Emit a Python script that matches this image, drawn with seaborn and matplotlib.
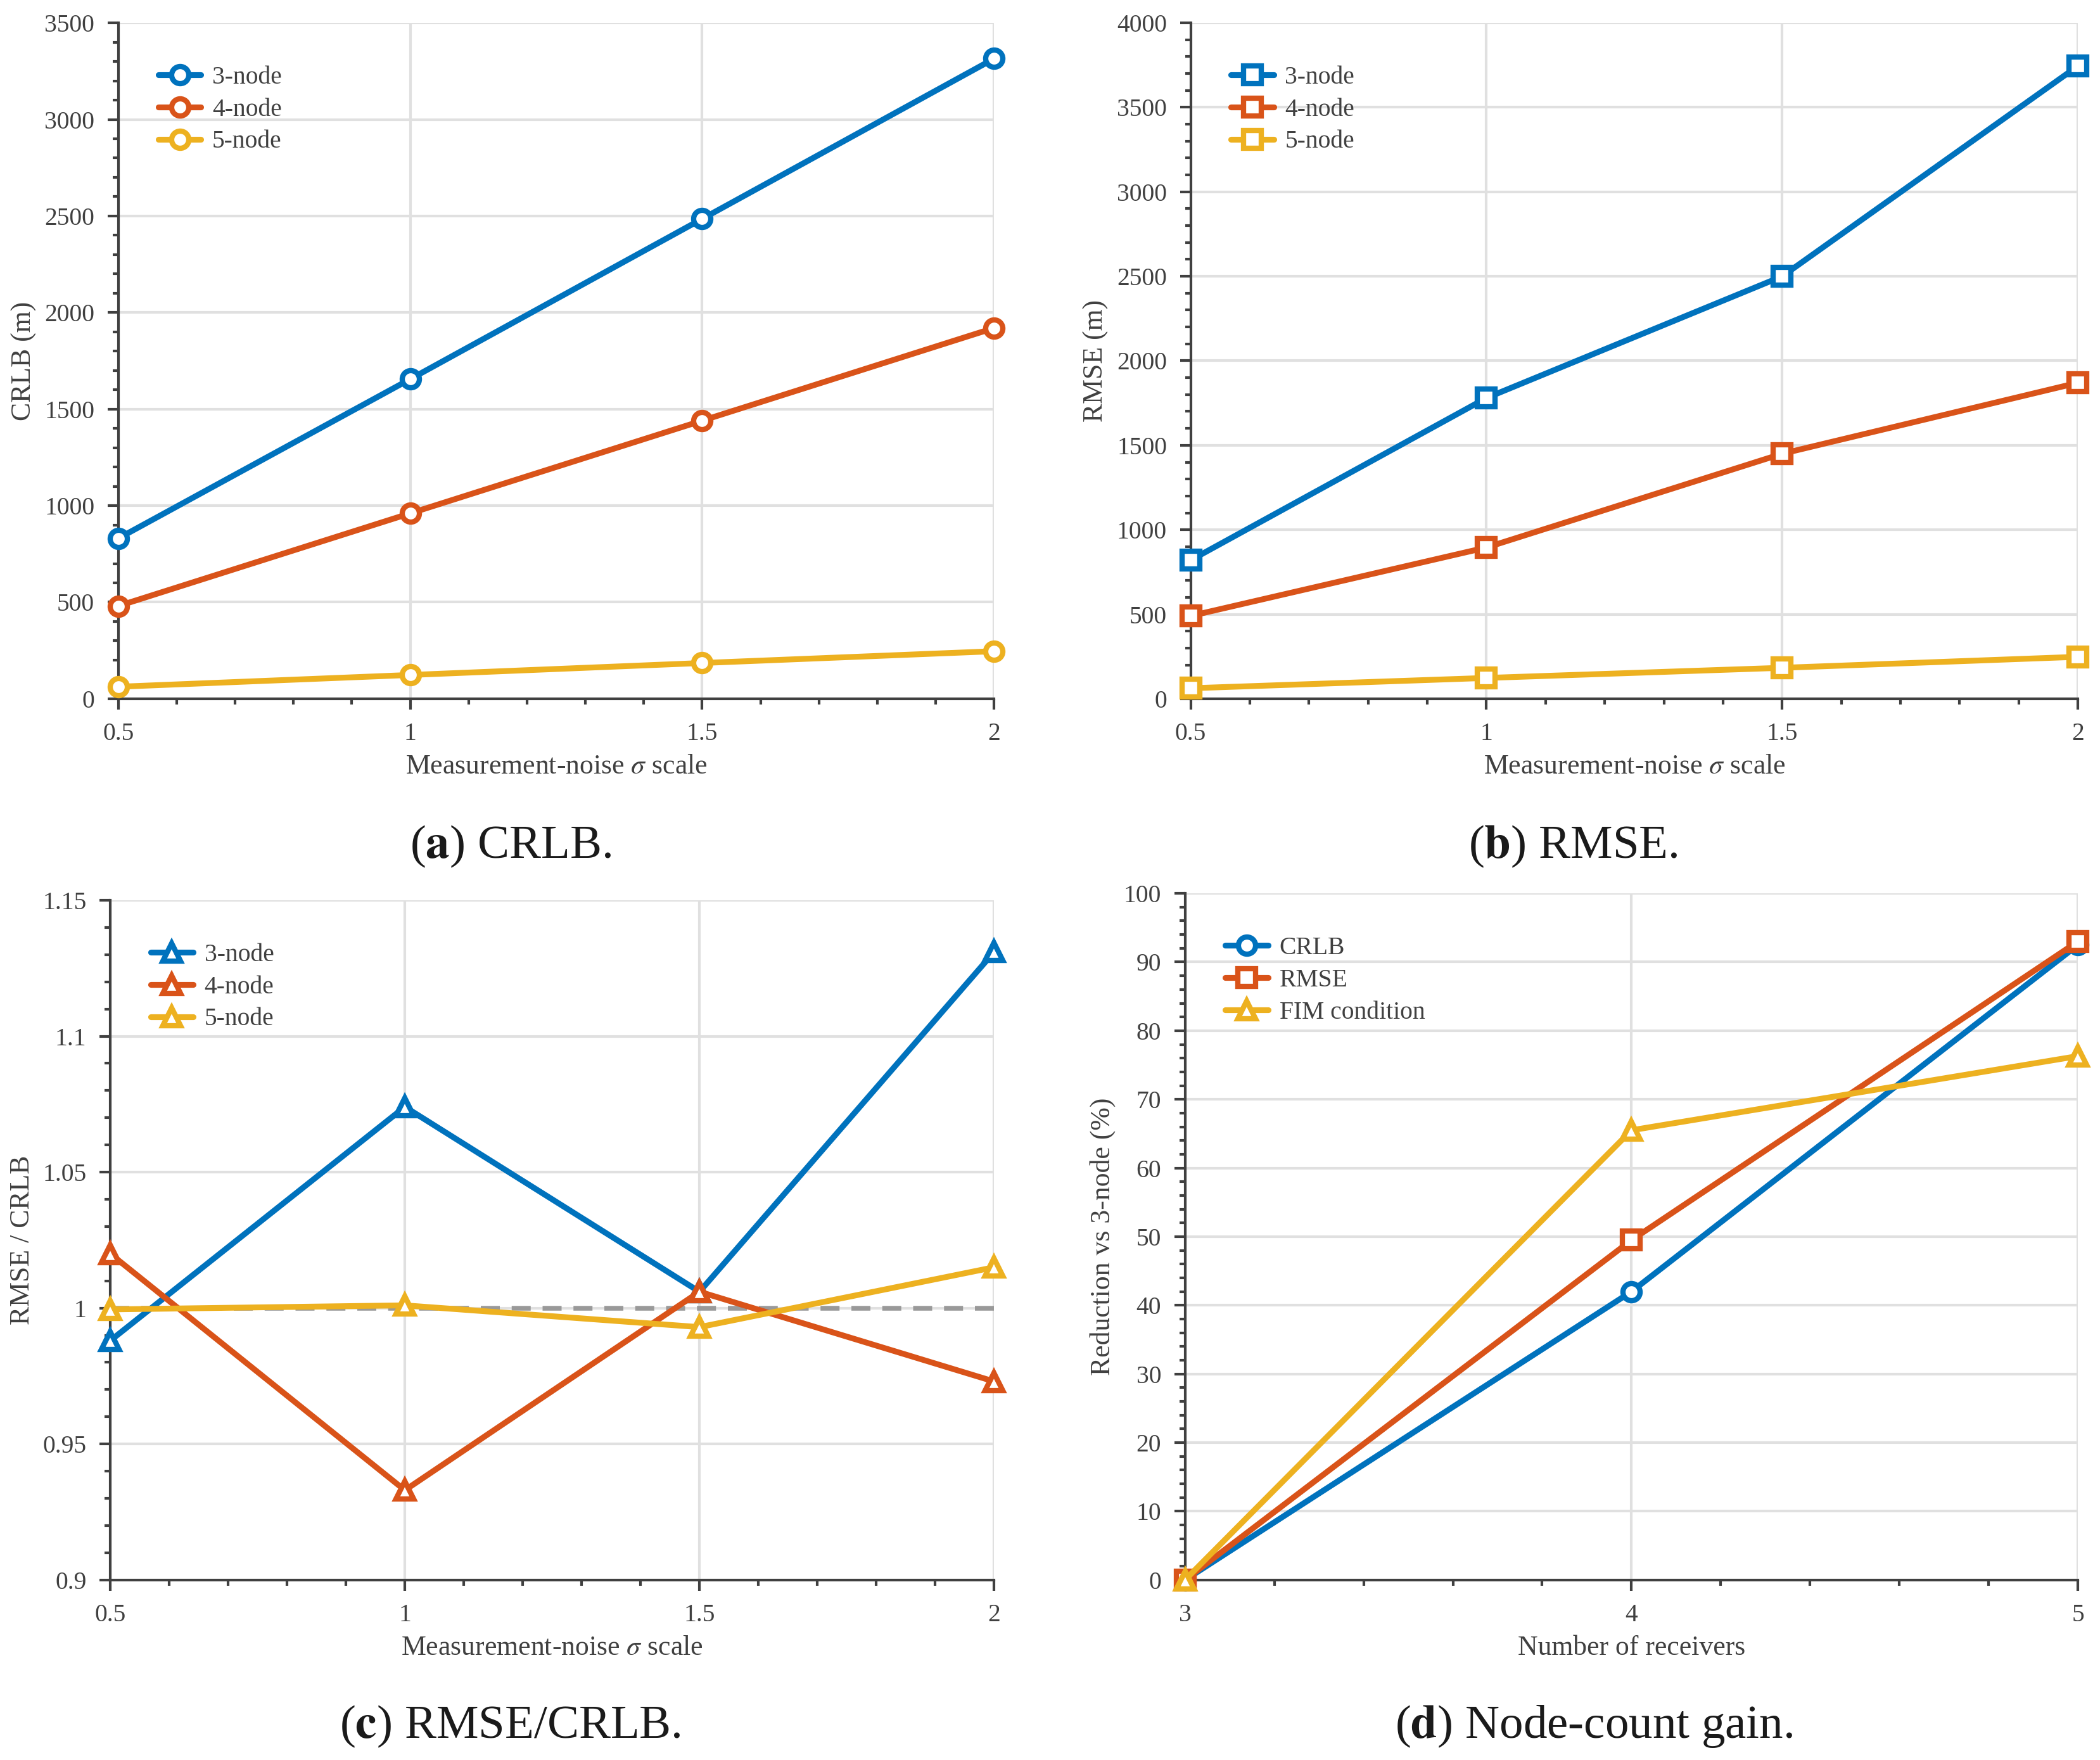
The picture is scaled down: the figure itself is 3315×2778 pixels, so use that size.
import matplotlib
matplotlib.use("Agg")
import pandas as pd
import seaborn as sns
from matplotlib import pyplot as plt
from matplotlib.ticker import AutoMinorLocator, FuncFormatter

# --- data ---
sigma_scale = [0.5, 1.0, 1.5, 2.0]
node_labels = ['3-node', '4-node', '5-node']

crlb_3node = [830, 1655, 2485, 3315]
crlb_4node = [480, 960, 1440, 1920]
crlb_5node = [62, 123, 185, 246]

rmse_3node = [820, 1780, 2500, 3745]
rmse_4node = [490, 895, 1450, 1870]
rmse_5node = [62, 123, 183, 248]

ratio_3node = [0.988, 1.074, 1.006, 1.131]
ratio_4node = [1.020, 0.933, 1.006, 0.973]
ratio_5node = [0.9995, 1.001, 0.993, 1.015]

receivers = [3, 4, 5]
gain_labels = ['CRLB', 'RMSE', 'FIM condition']
gain_crlb = [0, 42.0, 92.5]
gain_rmse = [0, 49.5, 93.0]
gain_fim = [0, 65.5, 76.3]

colors = ['#0072BD', '#D95319', '#EDB120']

sns.set_theme(style="ticks")
plt.rcParams['font.family'] = ['Liberation Serif', 'DejaVu Serif']
plt.rcParams['mathtext.fontset'] = 'stix'

TXT = '#404040'
TICK_FS = 9.5
LABEL_FS = 10.5


def draw_series(ax, x, y, label, color, marker):
    sns.lineplot(x=x, y=y, ax=ax, label=label, color=color, marker=marker,
                 markersize=6.5, markerfacecolor='white', markeredgecolor=color,
                 markeredgewidth=2.0, linewidth=2.2, clip_on=False, zorder=5)


def style_axes(ax, xlim, ylim, xticks, yticks, xlabel, ylabel):
    ax.set_xlim(*xlim)
    ax.set_ylim(*ylim)
    ax.set_xticks(xticks)
    ax.set_yticks(yticks)
    fmt = FuncFormatter(lambda v, p: '%g' % round(v, 6))
    ax.xaxis.set_major_formatter(fmt)
    ax.yaxis.set_major_formatter(fmt)
    ax.xaxis.set_minor_locator(AutoMinorLocator(5))
    ax.yaxis.set_minor_locator(AutoMinorLocator(5))
    ax.grid(True, which='major', color='#e0e0e0', linewidth=1.0)
    ax.set_axisbelow(True)
    for side in ['top', 'right']:
        ax.spines[side].set_visible(False)
    for side in ['left', 'bottom']:
        ax.spines[side].set_color('#404040')
        ax.spines[side].set_linewidth(1.0)
    ax.tick_params(which='both', direction='out', colors='#404040',
                   labelcolor=TXT, labelsize=TICK_FS, width=1.0,
                   bottom=True, left=True, top=False, right=False)
    ax.tick_params(which='major', length=4, pad=5)
    ax.tick_params(which='minor', length=2.2)
    ax.set_xlabel(xlabel, fontsize=LABEL_FS, color=TXT, labelpad=3)
    ax.set_ylabel(ylabel, fontsize=LABEL_FS, color=TXT, labelpad=3)
    ax.legend(loc='upper left', bbox_to_anchor=(0.02, 0.97), frameon=False,
              fontsize=TICK_FS, handlelength=1.7, handletextpad=0.45,
              labelspacing=0.35, labelcolor=TXT)


fig = plt.figure(figsize=(11.05, 9.26), dpi=300)

ax_a = fig.add_axes([0.0563, 0.603, 0.4171, 0.384])
ax_b = fig.add_axes([0.567, 0.603, 0.4225, 0.384])
ax_c = fig.add_axes([0.0525, 0.1023, 0.4209, 0.3862])
ax_d = fig.add_axes([0.5643, 0.1023, 0.4252, 0.3901])

xlab = r'Measurement-noise $\sigma$ scale'

# (a) CRLB
for vals, lab, col in zip([crlb_3node, crlb_4node, crlb_5node], node_labels, colors):
    draw_series(ax_a, sigma_scale, vals, lab, col, 'o')
style_axes(ax_a, (0.5, 2), (0, 3500), sigma_scale, range(0, 3501, 500),
           xlab, 'CRLB (m)')

# (b) RMSE
for vals, lab, col in zip([rmse_3node, rmse_4node, rmse_5node], node_labels, colors):
    draw_series(ax_b, sigma_scale, vals, lab, col, 's')
style_axes(ax_b, (0.5, 2), (0, 4000), sigma_scale, range(0, 4001, 500),
           xlab, 'RMSE (m)')

# (c) RMSE / CRLB
ax_c.axhline(1.0, color='#999999', linestyle=(0, (4, 2.5)), linewidth=1.8, zorder=3)
for vals, lab, col in zip([ratio_3node, ratio_4node, ratio_5node], node_labels, colors):
    draw_series(ax_c, sigma_scale, vals, lab, col, '^')
style_axes(ax_c, (0.5, 2), (0.9, 1.15), sigma_scale,
           [0.9, 0.95, 1.0, 1.05, 1.1, 1.15], xlab, 'RMSE / CRLB')

# (d) node-count gain
for vals, lab, col, mk in zip([gain_crlb, gain_rmse, gain_fim], gain_labels, colors, ['o', 's', '^']):
    draw_series(ax_d, receivers, vals, lab, col, mk)
style_axes(ax_d, (3, 5), (0, 100), receivers, range(0, 101, 10),
           'Number of receivers', 'Reduction vs 3-node (%)')

captions = [(0.243, 0.519, 'a', 'CRLB.'), (0.749, 0.519, 'b', 'RMSE.'),
            (0.243, 0.019, 'c', 'RMSE/CRLB.'), (0.759, 0.019, 'd', 'Node-count gain.')]
for cx, cy, letter, text in captions:
    fig.text(cx, cy, r'($\mathbf{%s}$) %s' % (letter, text), ha='center', va='center',
             fontsize=18, color='#1a1a1a')

fig.savefig('out.png', dpi=300)
